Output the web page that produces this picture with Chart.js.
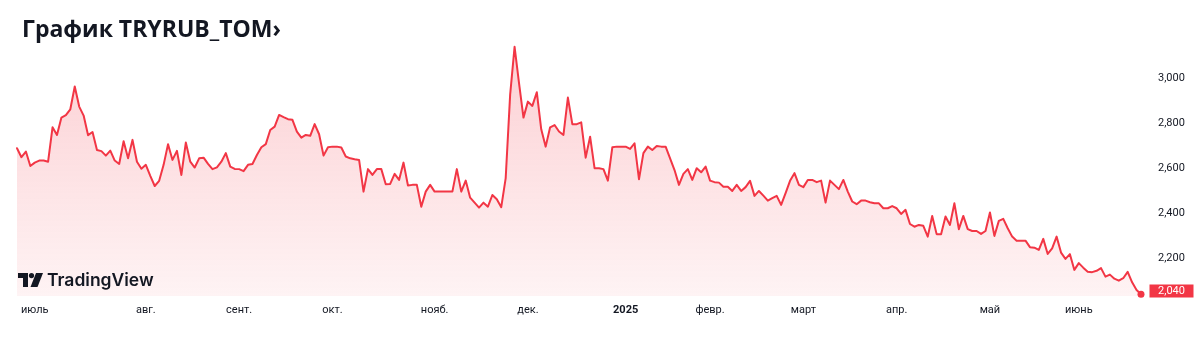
<!DOCTYPE html>
<html lang="ru">
<head>
  <meta charset="UTF-8" />
  <title>График TRYRUB_TOM</title>
  <script src="https://cdn.jsdelivr.net/npm/chart.js"></script>
  <style>
    html, body { margin: 0; padding: 0; background: #fff; }
    #quadro { position: relative; width: 1200px; height: 339px; overflow: hidden; }
    #grafico { position: absolute; left: 0; top: 0; }
    #titulo {
      position: absolute; left: 22px; top: 17px;
      font: 700 23px/23px "Open Sans", sans-serif; color: #131722; white-space: nowrap;
    }
    #marca {
      position: absolute; left: 18px; top: 271px; display: flex; align-items: center;
      font: 600 17.5px/18px Inter, sans-serif; color: #131722;
    }
    #marca svg { margin-right: 4px; }
  </style>
</head>
<body>
  <div id="quadro">
    <canvas id="grafico" width="1200" height="339"></canvas>
    <div id="titulo">График TRYRUB_TOM›</div>
    <div id="marca">
      <svg width="25" height="14" viewBox="0 0 25 14">
        <path d="M0 0H10V14H5V5H0Z" fill="#131722" />
        <circle cx="13.5" cy="2.6" r="2.6" fill="#131722" />
        <path d="M18 0H25L19.5 14H12.5Z" fill="#131722" />
      </svg>
      <span>TradingView</span>
    </div>
  </div>

  <script>
    // cotações diárias, de fim de junho/2024 até junho/2025
    const cotacoes = [
      2689, 2649, 2674, 2610, 2625, 2634, 2634, 2629, 2782, 2748, 2825, 2836, 2862, 2963, 2874, 2834,
      2747, 2761, 2681, 2676, 2656, 2678, 2634, 2619, 2720, 2644, 2726, 2629, 2598, 2615, 2566, 2521,
      2544, 2615, 2707, 2637, 2677, 2570, 2714, 2629, 2603, 2644,
      2647, 2619, 2596, 2604, 2629, 2667, 2607, 2597, 2596, 2587, 2615, 2619, 2659, 2693, 2707, 2770,
      2785, 2837, 2827, 2818, 2815, 2763, 2736, 2748, 2744, 2796, 2751, 2656, 2693, 2696, 2696, 2692,
      2652, 2644, 2640, 2637, 2496, 2596, 2570, 2596, 2596, 2529, 2530, 2575, 2548,
      2625, 2523, 2526, 2526, 2429, 2496, 2526, 2496, 2496, 2496, 2496, 2496, 2596, 2496, 2545, 2469,
      2447, 2425, 2447, 2429, 2481, 2462, 2427, 2556, 2926, 3140, 2978, 2825, 2896, 2877, 2938, 2773,
      2696, 2782, 2792, 2763, 2748, 2914, 2796, 2796, 2804, 2647, 2740, 2600, 2600,
      2596, 2545, 2693, 2696, 2696, 2696, 2686, 2711, 2551, 2667, 2696, 2681, 2699, 2696, 2696, 2644,
      2592, 2526, 2575, 2596, 2548, 2600, 2582, 2607, 2545, 2538, 2536, 2518, 2518, 2499, 2526, 2499,
      2516, 2544, 2477, 2499, 2478, 2456, 2467, 2477, 2437, 2489, 2544, 2578, 2526,
      2516, 2548, 2548, 2538, 2545, 2447, 2545, 2526, 2507, 2548, 2496, 2452, 2440, 2456, 2456, 2449,
      2444, 2444, 2422, 2422, 2432, 2422, 2397, 2415, 2352, 2340, 2348, 2344, 2296, 2388, 2307, 2307,
      2385, 2348, 2444, 2329, 2388, 2329, 2321, 2321, 2308, 2321, 2403, 2299, 2366,
      2375, 2333, 2296, 2278, 2278, 2278, 2249, 2247, 2237, 2286, 2219, 2244, 2296, 2225, 2197, 2218,
      2148, 2178, 2158, 2140, 2138, 2144, 2156, 2118, 2127, 2109, 2100, 2111, 2139, 2093, 2059, 2040
    ];

    // rótulos dos meses e o índice do primeiro pregão de cada um
    const rotulosMeses = ['июль', 'авг.', 'сент.', 'окт.', 'нояб.', 'дек.', '2025', 'февр.', 'март', 'апр.', 'май', 'июнь'];
    const indicesMeses = [4, 29, 50, 71, 94, 115, 137, 156, 177, 198, 219, 239];

    // marcas do eixo de preço
    const ticksPreco = [2200, 2400, 2600, 2800, 3000];

    const rotulos = cotacoes.map((_, i) => {
      const m = indicesMeses.indexOf(i);
      return m >= 0 ? rotulosMeses[m] : '';
    });

    const vermelho = '#F23645';
    const ultimo = cotacoes.length - 1;

    // etiqueta vermelha com o último preço no eixo da direita
    const etiquetaUltimoPreco = {
      id: 'etiquetaUltimoPreco',
      afterDraw(chart) {
        const { ctx, chartArea, scales } = chart;
        const valor = cotacoes[ultimo];
        const y = Math.min(scales.y.getPixelForValue(valor), chartArea.bottom - 5);
        const x0 = scales.y.left + 8.5;
        ctx.save();
        ctx.fillStyle = vermelho;
        ctx.fillRect(x0, y - 6.5, 44, 13);
        ctx.fillStyle = '#fff';
        ctx.font = '11px Roboto';
        ctx.textAlign = 'center';
        ctx.textBaseline = 'middle';
        ctx.fillText(valor.toLocaleString('en-US'), x0 + 22, y + 0.5);
        ctx.restore();
      }
    };

    const ctx = document.getElementById('grafico').getContext('2d');
    new Chart(ctx, {
      type: 'line',
      data: {
        labels: rotulos,
        datasets: [{
          data: cotacoes,
          borderColor: vermelho,
          borderWidth: 2,
          borderJoinStyle: 'round',
          borderCapStyle: 'round',
          tension: 0,
          fill: 'start',
          clip: false,
          backgroundColor: (c) => {
            const area = c.chart.chartArea;
            if (!area) return 'rgba(242, 54, 69, 0.12)';
            const g = c.chart.ctx.createLinearGradient(0, area.top, 0, area.bottom);
            g.addColorStop(0, 'rgba(242, 54, 69, 0.24)');
            g.addColorStop(1, 'rgba(242, 54, 69, 0.06)');
            return g;
          },
          pointRadius: (c) => c.dataIndex === ultimo ? 3.5 : 0,
          pointBackgroundColor: vermelho,
          pointBorderWidth: 0
        }]
      },
      options: {
        responsive: false,
        animation: false,
        layout: { padding: { left: 17, top: 40, right: 0, bottom: 0 } },
        plugins: { legend: { display: false }, tooltip: { enabled: false } },
        scales: {
          x: {
            grid: { display: false, drawTicks: false },
            border: { display: false },
            afterFit: (s) => { s.height = 43; },
            ticks: {
              autoSkip: false,
              maxRotation: 0,
              padding: 8,
              color: '#131722',
              font: (c) => ({ family: 'Roboto', size: 11, weight: c.tick && c.tick.label === '2025' ? 'bold' : 'normal' })
            }
          },
          y: {
            position: 'right',
            min: 2032,
            max: 3170,
            grid: { display: false, drawTicks: false },
            border: { display: false },
            afterFit: (s) => { s.width = 59; },
            afterBuildTicks: (s) => { s.ticks = ticksPreco.map(v => ({ value: v })); },
            ticks: {
              padding: 17,
              color: '#131722',
              font: { family: 'Roboto', size: 11 },
              callback: (v) => v.toLocaleString('en-US')
            }
          }
        }
      },
      plugins: [etiquetaUltimoPreco]
    });
  </script>
</body>
</html>
